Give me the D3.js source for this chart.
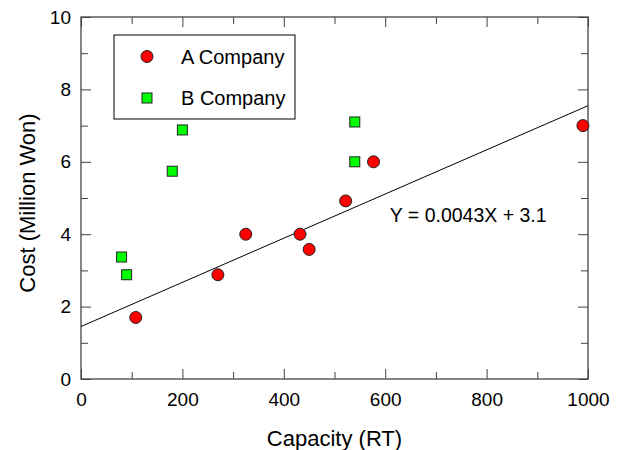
<!DOCTYPE html>
<html>
<head>
<meta charset="utf-8">
<script src="https://cdn.jsdelivr.net/npm/d3@7"></script>
<style>
  body { margin: 0; background: #fff; }
  text { font-family: "Liberation Sans", Arial, sans-serif; fill: #000; }
</style>
</head>
<body>
<div id="chart"></div>
<script>
// A Company (red circles): capacity (RT), cost (million won)
const aCapacity = [108, 270, 325, 432, 450, 522, 577, 990];
const aCost     = [1.7, 2.88, 4.0, 4.0, 3.58, 4.92, 6.0, 7.0];

// B Company (green squares)
const bCapacity = [80, 90, 180, 200, 540, 540];
const bCost     = [3.37, 2.88, 5.74, 6.88, 7.1, 6.0];

// fitted line drawn in the chart (end points)
const fitX = [0, 1000];
const fitY = [1.45, 7.55];
const fitLabel = "Y = 0.0043X + 3.1";

const xTicks = [0, 200, 400, 600, 800, 1000];
const xMinor = [100, 300, 500, 700, 900];
const yTicks = [0, 2, 4, 6, 8, 10];
const yMinor = [1, 3, 5, 7, 9];

const legendNames = ["A Company", "B Company"];

// Layout
const width = 624, height = 450;
const margin = { top: 17, right: 36, bottom: 71, left: 81 };
const plotW = width - margin.left - margin.right;
const plotH = height - margin.top - margin.bottom;
const axisColor = "#444";

const svg = d3.select("#chart").append("svg")
  .attr("width", width)
  .attr("height", height);

const g = svg.append("g")
  .attr("transform", `translate(${margin.left},${margin.top})`);

const x = d3.scaleLinear().domain([0, 1000]).range([0, plotW]);
const y = d3.scaleLinear().domain([0, 10]).range([plotH, 0]);

// ticks on all four sides, pointing inward
function tickAxis(axis, vals, size, transform) {
  const a = g.append("g")
    .attr("transform", transform)
    .call(axis.tickValues(vals).tickSize(size).tickFormat(""));
  a.select(".domain").remove();
  a.selectAll("line").attr("stroke", axisColor).attr("stroke-width", 1);
}
tickAxis(d3.axisTop(x), xTicks, 10, `translate(0,${plotH})`);
tickAxis(d3.axisTop(x), xMinor, 7, `translate(0,${plotH})`);
tickAxis(d3.axisBottom(x), xTicks, 10, "translate(0,0)");
tickAxis(d3.axisBottom(x), xMinor, 7, "translate(0,0)");
tickAxis(d3.axisRight(y), yTicks, 10, "translate(0,0)");
tickAxis(d3.axisRight(y), yMinor, 7, "translate(0,0)");
tickAxis(d3.axisLeft(y), yTicks, 10, `translate(${plotW},0)`);
tickAxis(d3.axisLeft(y), yMinor, 7, `translate(${plotW},0)`);

// tick labels
const xLab = g.append("g")
  .attr("transform", `translate(0,${plotH})`)
  .call(d3.axisBottom(x).tickValues(xTicks).tickSize(0).tickPadding(14).tickFormat(d3.format("d")));
xLab.select(".domain").remove();
xLab.selectAll("text").style("font-size", "19px").style("font-family", "Liberation Sans, Arial, sans-serif").attr("fill", "#000");

const yLab = g.append("g")
  .call(d3.axisLeft(y).tickValues(yTicks).tickSize(0).tickPadding(10).tickFormat(d3.format("d")));
yLab.select(".domain").remove();
yLab.selectAll("text").style("font-size", "19px").style("font-family", "Liberation Sans, Arial, sans-serif").attr("fill", "#000");

// frame
g.append("rect")
  .attr("width", plotW)
  .attr("height", plotH)
  .attr("fill", "none")
  .attr("stroke", axisColor)
  .attr("stroke-width", 1.3);

// fitted line
g.append("line")
  .attr("x1", x(fitX[0])).attr("y1", y(fitY[0]))
  .attr("x2", x(fitX[1])).attr("y2", y(fitY[1]))
  .attr("stroke", "#000")
  .attr("stroke-width", 1);

g.append("text")
  .attr("x", x(609))
  .attr("y", y(4.35))
  .style("font-size", "19.5px")
  .text(fitLabel);

// points
const aData = aCapacity.map((c, i) => ({ x: c, y: aCost[i] }));
const bData = bCapacity.map((c, i) => ({ x: c, y: bCost[i] }));

g.selectAll(".ptA")
  .data(aData)
  .enter().append("circle")
  .attr("class", "ptA")
  .attr("cx", d => x(d.x))
  .attr("cy", d => y(d.y))
  .attr("r", 6)
  .attr("fill", "#ff0000")
  .attr("stroke", "#222")
  .attr("stroke-width", 1);

const sq = 10;
g.selectAll(".ptB")
  .data(bData)
  .enter().append("rect")
  .attr("class", "ptB")
  .attr("x", d => x(d.x) - sq / 2)
  .attr("y", d => y(d.y) - sq / 2)
  .attr("width", sq)
  .attr("height", sq)
  .attr("fill", "#00ff00")
  .attr("stroke", "#222")
  .attr("stroke-width", 1);

// legend
const leg = svg.append("g").attr("transform", "translate(114,35)");
leg.append("rect")
  .attr("width", 181)
  .attr("height", 84)
  .attr("fill", "#fff")
  .attr("stroke", "#000")
  .attr("stroke-width", 1);

leg.append("circle")
  .attr("cx", 33).attr("cy", 21.5).attr("r", 6)
  .attr("fill", "#ff0000").attr("stroke", "#222");
leg.append("rect")
  .attr("x", 28).attr("y", 58).attr("width", sq).attr("height", sq)
  .attr("fill", "#00ff00").attr("stroke", "#222");

leg.selectAll(".legText")
  .data(legendNames)
  .enter().append("text")
  .attr("class", "legText")
  .attr("x", 67)
  .attr("y", (d, i) => 28.5 + i * 41.5)
  .style("font-size", "20px")
  .text(d => d);

// axis titles
svg.append("text")
  .attr("x", margin.left + plotW / 2)
  .attr("y", 446)
  .attr("text-anchor", "middle")
  .style("font-size", "22px")
  .text("Capacity (RT)");

svg.append("text")
  .attr("transform", `translate(35,${margin.top + plotH / 2 + 5}) rotate(-90)`)
  .attr("text-anchor", "middle")
  .style("font-size", "22px")
  .text("Cost (Million Won)");
</script>
</body>
</html>
